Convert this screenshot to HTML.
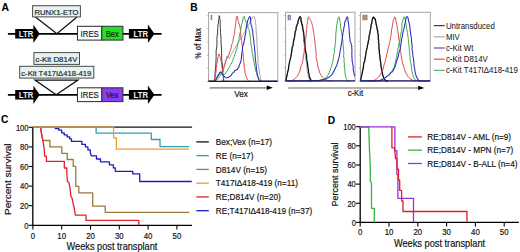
<!DOCTYPE html>
<html><head><meta charset="utf-8"><style>
html,body{margin:0;padding:0;background:#fff;width:520px;height:252px;overflow:hidden}
svg{display:block;font-family:"Liberation Sans", sans-serif}
</style></head><body>
<svg width="520" height="252" viewBox="0 0 520 252">
<rect x="0" y="0" width="520" height="252" fill="#fff"/>
<line x1="7.9" y1="33.8" x2="161.6" y2="33.8" stroke="#000" stroke-width="1.7"/>
<polygon points="15.2,29.049999999999997 33.4,29.049999999999997 33.4,24.699999999999996 39.8,33.8 33.4,42.9 33.4,38.55 15.2,38.55" fill="#000"/>
<text x="18.8" y="36.6" font-size="8.58" font-weight="bold" fill="#f4f4f4" text-anchor="start" textLength="14.40" lengthAdjust="spacingAndGlyphs" >LTR</text>
<polygon points="128.9,29.049999999999997 147.9,29.049999999999997 147.9,24.599999999999998 154.5,33.8 147.9,43.0 147.9,38.55 128.9,38.55" fill="#000"/>
<text x="133.5" y="36.6" font-size="8.58" font-weight="bold" fill="#f4f4f4" text-anchor="start" textLength="14.50" lengthAdjust="spacingAndGlyphs" >LTR</text>
<rect x="77.5" y="26.3" width="24.3" height="13.8" fill="#fff" stroke="#333" stroke-width="1.05"/>
<rect x="101.8" y="26.3" width="21.1" height="13.8" fill="#26e026" stroke="#333" stroke-width="1.05"/>
<text x="80.6" y="36.8" font-size="8.58" font-weight="normal" fill="#222" text-anchor="start" textLength="18.20" lengthAdjust="spacingAndGlyphs" stroke="#222" stroke-width="0.18" >IRES</text>
<text x="105.9" y="36.8" font-size="8.58" font-weight="normal" fill="#1a1a1a" text-anchor="start" textLength="12.80" lengthAdjust="spacingAndGlyphs" stroke="#1a1a1a" stroke-width="0.18" >Bex</text>
<line x1="7.9" y1="94.8" x2="161.6" y2="94.8" stroke="#000" stroke-width="1.7"/>
<polygon points="15.2,90.05 33.4,90.05 33.4,85.7 39.8,94.8 33.4,103.89999999999999 33.4,99.55 15.2,99.55" fill="#000"/>
<text x="18.8" y="97.6" font-size="8.58" font-weight="bold" fill="#f4f4f4" text-anchor="start" textLength="14.40" lengthAdjust="spacingAndGlyphs" >LTR</text>
<polygon points="128.9,90.05 147.9,90.05 147.9,85.6 154.5,94.8 147.9,104.0 147.9,99.55 128.9,99.55" fill="#000"/>
<text x="133.5" y="97.6" font-size="8.58" font-weight="bold" fill="#f4f4f4" text-anchor="start" textLength="14.50" lengthAdjust="spacingAndGlyphs" >LTR</text>
<rect x="77.5" y="87.8" width="24.3" height="13.799999999999997" fill="#fff" stroke="#333" stroke-width="1.05"/>
<rect x="101.8" y="87.8" width="21.1" height="13.799999999999997" fill="#8a3cf0" stroke="#333" stroke-width="1.05"/>
<text x="80.6" y="98.3" font-size="8.58" font-weight="normal" fill="#222" text-anchor="start" textLength="18.20" lengthAdjust="spacingAndGlyphs" stroke="#222" stroke-width="0.18" >IRES</text>
<text x="105.9" y="98.3" font-size="8.58" font-weight="normal" fill="#1a1a1a" text-anchor="start" textLength="12.80" lengthAdjust="spacingAndGlyphs" stroke="#1a1a1a" stroke-width="0.18" >Vex</text>
<polyline points="35.4,17.0 56.9,33.8 77.0,17.0" fill="none" stroke="#111" stroke-width="1.25"/>
<rect x="32.6" y="5.7" width="47.8" height="11.2" fill="#e6f3f3" stroke="#4a4a4a" stroke-width="1.0"/>
<text x="34.4" y="14.6" font-size="7.80" font-weight="normal" fill="#222" text-anchor="start" textLength="44.20" lengthAdjust="spacingAndGlyphs" stroke="#222" stroke-width="0.18" >RUNX1-ETO</text>
<polygon points="35.0,80.1 77.9,80.1 56.2,94.8" fill="none" stroke="#111" stroke-width="1.25"/>
<rect x="33.9" y="52.6" width="45.6" height="11.8" fill="#e6f3f3" stroke="#4a4a4a" stroke-width="1.0"/>
<text x="35.6" y="62.0" font-size="8.03" font-weight="normal" fill="#222" text-anchor="start" textLength="41.80" lengthAdjust="spacingAndGlyphs" stroke="#222" stroke-width="0.18" >c-Kit D814V</text>
<rect x="19.7" y="66.3" width="74.1" height="11.8" fill="#e6f3f3" stroke="#4a4a4a" stroke-width="1.0"/>
<text x="21.3" y="75.9" font-size="8.03" font-weight="normal" fill="#222" text-anchor="start" textLength="69.90" lengthAdjust="spacingAndGlyphs" stroke="#222" stroke-width="0.18" >c-Kit T417I&#916;418-419</text>
<text x="1.5" y="11.0" font-size="10.40" font-weight="bold" fill="#000" text-anchor="start" textLength="7.51" lengthAdjust="spacingAndGlyphs" stroke="#000" stroke-width="0.1" >A</text>
<text x="190.3" y="10.5" font-size="10.20" font-weight="bold" fill="#000" text-anchor="start" textLength="7.37" lengthAdjust="spacingAndGlyphs" stroke="#000" stroke-width="0.1" >B</text>
<rect x="208.6" y="12.6" width="69.20000000000002" height="68.9" fill="none" stroke="#a4a4a4" stroke-width="1.0"/>
<line x1="206.79999999999998" y1="81.5" x2="208.6" y2="81.5" stroke="#999" stroke-width="0.6"/>
<line x1="206.79999999999998" y1="68.4" x2="208.6" y2="68.4" stroke="#999" stroke-width="0.6"/>
<line x1="206.79999999999998" y1="55.2" x2="208.6" y2="55.2" stroke="#999" stroke-width="0.6"/>
<line x1="206.79999999999998" y1="42.1" x2="208.6" y2="42.1" stroke="#999" stroke-width="0.6"/>
<line x1="206.79999999999998" y1="28.9" x2="208.6" y2="28.9" stroke="#999" stroke-width="0.6"/>
<line x1="206.79999999999998" y1="15.8" x2="208.6" y2="15.8" stroke="#999" stroke-width="0.6"/>
<text x="210.5" y="19.9" font-size="6.93" font-weight="bold" fill="#6a6a6a" text-anchor="start" textLength="1.75" lengthAdjust="spacingAndGlyphs" stroke="#6a6a6a" stroke-width="0.3" >i</text>
<rect x="285.6" y="12.3" width="69.39999999999998" height="68.7" fill="none" stroke="#a4a4a4" stroke-width="1.0"/>
<line x1="283.8" y1="81.0" x2="285.6" y2="81.0" stroke="#999" stroke-width="0.6"/>
<line x1="283.8" y1="67.9" x2="285.6" y2="67.9" stroke="#999" stroke-width="0.6"/>
<line x1="283.8" y1="54.8" x2="285.6" y2="54.8" stroke="#999" stroke-width="0.6"/>
<line x1="283.8" y1="41.7" x2="285.6" y2="41.7" stroke="#999" stroke-width="0.6"/>
<line x1="283.8" y1="28.6" x2="285.6" y2="28.6" stroke="#999" stroke-width="0.6"/>
<line x1="283.8" y1="15.5" x2="285.6" y2="15.5" stroke="#999" stroke-width="0.6"/>
<text x="287.5" y="19.6" font-size="6.93" font-weight="bold" fill="#6a6a6a" text-anchor="start" textLength="3.50" lengthAdjust="spacingAndGlyphs" stroke="#6a6a6a" stroke-width="0.3" >ii</text>
<rect x="360.4" y="12.3" width="69.90000000000003" height="68.7" fill="none" stroke="#a4a4a4" stroke-width="1.0"/>
<line x1="358.59999999999997" y1="81.0" x2="360.4" y2="81.0" stroke="#999" stroke-width="0.6"/>
<line x1="358.59999999999997" y1="67.9" x2="360.4" y2="67.9" stroke="#999" stroke-width="0.6"/>
<line x1="358.59999999999997" y1="54.8" x2="360.4" y2="54.8" stroke="#999" stroke-width="0.6"/>
<line x1="358.59999999999997" y1="41.7" x2="360.4" y2="41.7" stroke="#999" stroke-width="0.6"/>
<line x1="358.59999999999997" y1="28.6" x2="360.4" y2="28.6" stroke="#999" stroke-width="0.6"/>
<line x1="358.59999999999997" y1="15.5" x2="360.4" y2="15.5" stroke="#999" stroke-width="0.6"/>
<text x="362.29999999999995" y="19.6" font-size="6.93" font-weight="bold" fill="#6a6a6a" text-anchor="start" textLength="5.25" lengthAdjust="spacingAndGlyphs" stroke="#6a6a6a" stroke-width="0.3" >iii</text>
<polyline points="208.60,81.20 209.44,81.17 210.64,81.16 212.05,81.13 213.51,81.04 214.88,80.84 216.00,80.50 216.86,80.00 217.59,79.43 218.22,78.80 218.74,78.05 219.31,77.09 219.92,75.81 220.66,74.84 221.26,72.85 222.10,71.71 222.77,69.39 223.59,67.20 224.16,65.77 224.42,63.84 225.04,62.74 225.51,60.62 226.21,58.69 226.66,56.96 226.91,56.18 227.62,56.11 227.87,56.52 228.32,56.75 228.85,57.79 228.99,58.08 229.51,58.41 229.99,57.33 230.48,56.47 230.61,56.31 230.90,55.04 231.29,54.21 232.12,53.08 232.75,51.73 233.31,50.88 233.94,49.51 234.76,48.82 235.30,47.31 235.81,46.22 236.73,45.50 237.47,43.73 237.95,43.19 238.46,41.99 239.19,40.63 239.81,40.30 240.50,38.61 241.29,38.15 241.82,36.51 242.69,35.79 243.47,34.58 243.90,32.91 244.62,32.24 245.57,30.25 245.92,29.14 246.62,28.24 247.43,26.85 247.78,25.91 248.50,24.98 249.26,24.03 249.55,22.89 250.09,21.26 250.67,21.13 251.16,20.33 251.51,19.06 251.97,18.45 252.55,17.04 253.19,16.55 253.78,16.15 254.08,16.42 254.48,17.19 254.72,18.56 255.21,18.89 255.26,20.60 255.51,22.25 255.95,25.54 256.04,27.98 256.13,31.22 256.49,35.46 256.96,39.55 256.85,44.50 257.31,47.31 257.53,50.53 257.72,54.79 258.05,57.58 257.99,60.20 258.18,63.52 258.61,66.31 258.87,68.49 259.44,72.04 259.84,74.54 260.24,76.92 260.59,78.93 261.00,80.50 261.22,81.42 261.25,81.78 261.27,81.76 261.46,81.53 261.98,81.28 263.00,81.20 264.80,81.24 267.30,81.25 270.12,81.24 272.93,81.23 275.34,81.21 277.00,81.20" fill="none" stroke="#9a9a9a" stroke-width="0.9" stroke-linejoin="round" />
<polyline points="208.60,81.20 209.11,81.19 209.86,81.18 210.72,81.16 211.60,81.13 212.40,81.08 213.00,81.00 213.40,80.91 213.69,80.84 213.88,80.74 214.03,80.59 214.15,80.35 214.29,79.95 214.41,79.78 214.53,79.88 214.66,79.81 214.76,79.46 214.90,78.16 214.93,75.84 215.10,72.07 215.55,68.04 215.96,61.85 216.15,56.49 216.11,50.83 216.83,46.40 216.96,42.20 216.84,39.28 217.11,36.28 217.66,32.94 217.53,31.12 217.93,27.54 217.83,24.95 218.52,23.27 218.36,20.88 219.09,18.60 218.99,17.01 219.09,15.62 219.77,16.77 219.72,18.17 219.85,19.69 220.25,20.81 220.09,23.25 220.25,26.12 220.42,28.59 220.49,32.38 220.76,35.14 221.02,39.33 221.08,42.98 221.30,46.04 221.51,49.07 221.67,53.31 221.65,58.26 221.98,61.76 222.51,65.53 222.50,68.63 222.82,71.59 222.83,73.66 223.08,75.50 223.38,77.37 223.55,78.89 223.82,79.99 223.54,80.80 222.65,81.20 221.79,81.31 221.61,81.27 222.80,81.19 226.00,81.20 232.27,81.27 241.27,81.29 251.64,81.28 261.97,81.24 270.89,81.21 277.00,81.20" fill="none" stroke="#3c3c3c" stroke-width="1.0" stroke-linejoin="round" />
<polyline points="208.60,81.20 209.11,81.19 209.86,81.18 210.72,81.16 211.60,81.13 212.40,81.08 213.00,81.00 213.39,80.95 213.66,80.95 213.83,80.92 213.97,80.81 214.11,80.52 214.30,80.00 214.54,79.28 214.77,78.34 215.02,77.40 215.31,76.17 215.64,74.44 215.82,73.33 216.20,70.77 216.20,68.78 216.47,66.13 216.77,64.20 217.36,62.25 217.35,60.24 217.81,58.14 218.14,57.78 218.06,56.70 218.34,55.33 218.81,55.07 218.65,54.22 219.01,54.01 219.08,54.16 219.51,54.23 219.63,55.24 219.59,55.72 220.05,56.51 219.99,57.60 220.49,58.18 220.36,58.06 220.50,59.38 220.79,59.55 221.07,61.45 221.48,62.08 221.45,64.46 221.91,66.00 221.96,67.02 222.47,68.93 222.43,70.54 222.79,71.10 222.69,71.63 222.75,71.90 222.96,71.48 223.12,71.77 223.21,70.56 223.59,69.77 223.75,68.41 224.11,66.95 224.64,65.44 225.27,63.82 225.60,62.25 225.99,60.78 226.44,59.53 227.16,58.90 227.44,57.58 228.28,55.91 228.74,54.93 229.12,53.91 229.61,51.99 230.28,50.92 230.64,49.18 231.28,47.48 231.56,45.83 231.74,44.50 232.01,44.27 232.31,42.83 232.44,42.75 233.01,41.60 233.00,39.92 233.30,38.69 233.55,37.04 233.92,35.85 234.56,33.53 234.57,32.06 234.92,29.44 235.10,27.26 235.64,24.83 235.84,22.22 236.08,19.56 236.43,17.81 236.70,16.27 237.09,16.34 237.46,17.25 237.78,18.49 238.00,20.06 238.10,20.77 238.61,21.61 238.77,22.89 238.75,23.73 239.40,24.12 239.61,25.00 239.61,25.53 240.00,26.97 240.33,28.37 240.41,30.12 240.61,31.74 240.56,32.91 240.67,35.13 240.83,37.37 241.21,38.65 241.43,40.08 241.56,40.67 241.90,42.88 241.98,44.21 242.27,45.52 242.54,47.91 242.49,50.41 243.03,52.99 243.29,56.52 243.44,58.47 243.69,61.20 244.05,63.35 244.21,64.92 244.20,67.19 244.69,69.22 244.89,70.85 245.07,72.83 245.64,74.73 246.09,76.06 246.56,77.56 247.08,78.75 247.65,79.85 248.20,80.70 248.83,81.21 249.55,81.42 250.29,81.43 250.99,81.34 251.58,81.23 252.00,81.20" fill="none" stroke="#d8343a" stroke-width="0.9" stroke-linejoin="round" />
<polyline points="208.60,81.20 209.34,81.18 210.40,81.20 211.64,81.19 212.91,81.11 214.08,80.90 215.00,80.50 215.68,79.85 216.12,78.84 216.59,77.90 216.88,76.57 217.17,75.92 217.54,75.04 217.91,74.59 218.46,74.12 218.79,74.24 219.18,74.33 219.44,74.46 220.00,73.90 220.46,74.27 221.21,74.36 221.84,74.64 222.60,75.09 223.26,75.03 224.18,74.38 224.95,74.11 225.74,72.92 226.38,71.91 227.38,70.92 227.87,69.60 228.50,68.10 229.01,67.99 229.61,67.14 230.08,65.44 230.65,64.38 231.06,64.19 231.77,62.94 232.17,61.90 232.83,60.29 233.26,58.49 233.79,57.64 234.31,56.53 234.61,54.50 235.38,53.18 235.67,51.97 236.08,50.91 236.85,48.86 237.15,47.35 237.53,45.88 237.73,44.01 238.10,43.17 238.55,40.72 239.05,39.87 239.16,37.25 239.36,35.55 239.75,33.95 240.01,32.57 240.46,31.71 240.85,29.64 241.02,28.21 241.35,26.42 241.57,24.58 242.36,22.43 242.56,20.99 243.12,18.73 243.24,17.35 243.66,16.74 244.23,17.08 244.49,16.64 244.41,18.27 245.08,19.07 245.23,19.60 245.45,21.47 245.96,22.03 246.35,21.94 246.30,22.41 246.82,23.61 247.35,24.37 247.56,25.29 247.84,26.05 248.04,27.36 248.51,28.67 249.08,29.29 249.21,30.68 249.76,32.82 249.80,33.97 250.20,36.56 250.34,38.35 250.65,40.44 250.78,43.39 251.40,46.16 251.79,48.77 252.00,51.60 252.86,55.30 253.13,57.73 253.77,61.47 254.26,63.73 254.89,66.92 255.22,68.27 255.80,70.86 256.42,72.69 256.92,74.81 257.30,76.07 257.77,77.39 258.11,78.39 258.41,79.28 258.77,79.91 259.13,80.36 259.50,80.80 259.93,81.11 260.40,81.26 260.89,81.29 261.34,81.25 261.72,81.21 262.00,81.20" fill="none" stroke="#3aaa4a" stroke-width="1.0" stroke-linejoin="round" />
<polyline points="208.60,81.20 209.32,81.23 210.33,81.33 211.51,81.43 212.76,81.41 213.96,81.20 215.00,80.70 215.91,79.73 216.76,78.42 217.64,77.08 218.30,75.33 218.97,74.35 219.50,72.78 219.84,72.43 220.31,72.45 220.38,72.36 220.56,71.79 220.52,72.45 221.08,72.03 221.63,72.93 222.27,73.87 223.03,74.83 223.92,76.15 224.87,77.01 225.66,77.61 226.34,77.98 227.14,77.82 227.79,77.60 228.58,77.38 229.30,76.70 230.17,75.99 230.86,75.66 231.75,74.33 232.37,73.30 233.41,72.40 234.11,72.00 234.64,70.69 235.47,70.52 235.72,70.32 236.23,69.67 236.55,69.91 237.40,69.40 237.90,68.08 238.09,67.69 238.93,67.20 239.21,65.26 239.74,64.20 240.44,62.35 240.83,61.26 241.25,59.26 241.53,56.36 241.75,53.81 242.29,50.92 242.35,49.28 242.69,46.52 242.90,45.58 243.30,44.97 243.81,44.10 243.81,42.21 244.01,41.55 244.59,39.94 244.71,37.79 245.22,35.53 245.63,32.96 245.96,29.38 246.43,26.97 246.73,24.86 247.28,22.72 247.59,20.88 248.09,19.87 248.82,17.88 249.23,17.68 249.70,16.50 250.17,17.39 250.52,17.90 250.53,20.26 250.90,22.16 250.76,23.25 251.03,24.66 251.67,26.33 251.92,27.22 252.16,28.42 252.16,29.96 252.73,30.57 252.84,32.73 252.92,34.25 253.12,35.97 253.40,38.47 253.82,40.31 253.80,42.98 254.38,45.65 254.54,49.05 255.11,53.35 255.16,57.04 255.69,61.67 256.18,64.97 256.35,68.81 256.84,70.97 257.18,73.66 257.56,75.22 257.96,76.72 258.41,78.20 258.79,79.15 259.13,80.03 259.30,80.58 259.49,80.86 259.87,81.00 260.59,81.08 261.80,81.20 263.80,81.32 266.53,81.35 269.59,81.33 272.61,81.27 275.21,81.22 277.00,81.20" fill="none" stroke="#2a2ac0" stroke-width="1.05" stroke-linejoin="round" />
<polyline points="285.60,81.00 285.69,80.75 285.79,80.48 285.91,80.16 286.08,79.67 286.27,79.01 286.50,77.91 286.69,76.79 287.10,75.51 287.29,73.71 287.71,71.82 287.98,69.70 288.51,68.47 288.71,66.02 289.41,64.48 289.55,61.40 290.31,60.12 290.54,56.83 291.19,54.88 291.65,52.72 292.11,49.70 292.61,47.19 292.95,45.31 293.65,42.06 293.88,39.89 294.49,37.54 294.79,35.09 295.53,33.56 295.69,31.03 296.47,28.40 296.95,26.58 297.29,25.17 297.74,23.01 298.08,21.53 298.50,20.06 298.91,18.63 299.09,18.13 299.62,17.54 300.03,18.42 300.16,18.40 300.43,19.23 300.55,20.70 300.82,21.94 301.32,22.83 301.70,24.39 302.08,26.87 302.33,27.99 302.66,30.49 303.20,32.60 303.48,36.24 303.75,39.05 303.83,42.47 304.29,45.80 304.82,48.31 305.13,52.47 305.20,55.24 305.91,58.64 306.39,62.41 306.79,65.76 307.08,69.77 307.40,71.80 307.92,74.06 308.27,75.84 308.74,77.61 309.22,78.77 309.60,79.71 310.00,80.50 310.39,81.05 310.78,81.28 311.16,81.28 311.50,81.17 311.79,81.04 312.00,81.00" fill="none" stroke="#9a9a9a" stroke-width="0.9" stroke-linejoin="round" />
<polyline points="285.60,81.00 285.71,80.60 285.83,80.14 286.02,79.53 286.26,78.76 286.49,77.81 286.71,76.48 287.24,74.18 287.79,71.65 288.46,69.34 288.66,66.81 289.25,63.19 289.94,60.37 290.50,58.05 290.93,56.38 291.44,53.24 291.81,49.72 292.13,47.56 292.86,45.91 293.14,44.91 293.21,42.68 293.73,41.31 293.58,40.78 293.85,39.73 294.15,38.82 294.59,36.86 294.84,35.71 294.80,34.78 295.10,32.10 295.28,31.24 296.01,30.00 296.07,27.89 296.20,27.07 296.88,25.35 297.31,24.22 297.86,23.44 297.86,22.56 298.13,20.90 298.73,19.28 298.94,18.89 299.31,17.63 300.20,16.44 300.13,16.95 300.61,17.43 301.06,17.70 301.04,19.13 301.15,21.38 301.81,22.59 301.62,24.08 302.29,24.68 302.54,25.71 302.50,26.29 302.75,27.38 303.06,29.76 303.51,31.58 303.76,32.83 303.90,35.43 304.27,38.11 304.22,40.95 304.87,43.03 305.11,45.32 305.09,48.12 305.71,51.61 306.09,53.24 306.55,55.74 306.57,59.06 307.17,61.27 307.57,64.31 307.84,66.91 308.35,69.73 308.60,72.13 309.04,74.12 309.34,76.27 309.74,77.82 310.21,78.62 310.67,79.62 311.10,80.10 311.45,80.60 311.70,81.00" fill="none" stroke="#111" stroke-width="1.25" stroke-linejoin="round" />
<polyline points="288.00,81.00 288.41,81.03 288.96,81.13 289.62,81.22 290.36,81.23 291.17,81.08 292.00,80.70 292.90,80.08 293.95,79.43 295.04,78.59 296.05,77.51 297.13,76.35 298.17,74.93 298.84,73.15 299.96,71.17 300.41,68.09 301.15,65.44 302.15,63.79 302.66,61.36 303.19,58.23 303.41,55.31 304.10,52.68 304.25,50.28 304.42,47.72 304.80,46.24 305.04,44.41 305.43,43.74 305.45,43.24 305.16,42.39 305.43,41.90 305.53,40.43 305.82,37.82 306.20,35.12 306.44,32.39 306.35,29.57 306.96,27.76 306.88,24.99 307.34,23.41 307.43,21.27 307.73,20.03 307.94,18.82 308.21,17.04 308.69,16.80 308.77,16.97 309.15,17.71 309.84,18.62 310.22,19.23 310.51,20.33 311.07,20.84 311.37,21.38 311.33,22.13 311.88,22.86 311.88,23.82 312.04,24.04 312.41,25.28 312.76,26.33 312.83,27.34 313.00,29.41 313.47,30.93 313.50,32.29 314.02,34.19 313.99,35.84 314.57,37.46 314.51,39.46 314.99,42.08 315.00,43.43 315.29,45.81 315.63,47.96 315.74,50.48 316.22,53.64 316.05,56.49 316.34,58.41 317.11,61.32 317.48,63.38 317.78,66.13 318.35,68.13 319.14,70.37 319.88,73.13 320.74,74.70 321.60,76.10 322.51,77.28 323.60,78.21 324.70,78.85 325.72,79.50 326.70,79.98 327.69,80.43 328.71,80.69 329.72,80.83 330.65,80.90 331.43,80.94 332.00,81.00" fill="none" stroke="#d8343a" stroke-width="0.9" stroke-linejoin="round" />
<polyline points="315.00,81.00 315.80,80.94 316.91,80.90 318.23,80.83 319.62,80.69 320.99,80.43 322.21,80.03 323.30,79.49 324.37,78.90 325.38,78.13 326.32,77.29 327.22,76.08 328.27,74.82 329.11,72.73 329.90,70.76 330.79,68.36 331.57,66.45 332.05,63.63 332.92,60.88 333.31,59.13 333.53,56.25 333.94,54.07 334.60,51.28 334.53,48.76 335.02,46.24 335.29,43.26 335.67,40.03 335.70,37.31 335.84,33.89 336.16,31.02 336.33,28.63 336.78,25.14 337.14,23.06 337.44,20.82 338.03,19.20 338.39,17.30 338.68,17.07 339.28,16.80 339.21,17.69 339.50,18.14 339.61,20.24 340.15,21.84 340.29,23.67 340.53,26.43 341.00,28.96 341.64,32.31 341.91,34.88 342.32,37.53 342.75,40.04 342.96,41.43 342.89,42.32 343.01,42.85 342.90,44.03 343.10,44.35 343.21,45.98 343.39,48.12 343.60,50.16 343.84,53.30 343.58,56.01 344.10,58.69 343.94,61.36 344.36,63.11 344.30,66.95 344.82,68.99 344.88,71.62 345.23,74.45 345.57,76.05 345.99,77.71 346.29,78.73 346.72,79.42 347.13,79.95 347.52,80.32 347.90,80.70 348.29,81.00 348.69,81.12 349.09,81.13 349.46,81.08 349.77,81.02 350.00,81.00" fill="none" stroke="#3aaa4a" stroke-width="1.0" stroke-linejoin="round" />
<polyline points="285.60,81.00 289.07,80.99 294.10,80.97 299.94,80.95 305.87,80.92 311.13,80.87 315.00,80.80 317.32,80.71 318.64,80.61 319.31,80.49 319.66,80.35 320.02,80.21 320.69,80.02 321.68,79.85 322.67,79.71 323.68,79.45 324.66,79.18 325.69,78.80 326.70,78.32 327.72,77.81 328.76,77.29 329.72,76.55 330.82,75.54 331.87,74.63 332.76,73.04 333.90,71.14 334.73,69.82 335.38,67.78 336.54,65.97 337.19,63.79 338.00,60.98 338.83,58.10 339.34,56.18 339.71,53.79 340.20,50.74 340.71,48.56 340.97,45.93 341.40,44.08 341.84,42.02 342.05,40.51 342.11,38.76 342.33,37.90 342.67,35.92 342.85,33.43 343.19,31.62 343.71,29.69 343.83,27.52 344.59,25.37 344.60,23.38 344.97,21.65 345.77,20.51 346.06,19.26 346.57,17.89 346.81,17.14 347.19,16.91 347.48,16.90 347.73,18.12 348.02,19.09 347.99,20.68 348.48,23.51 348.67,24.86 348.99,27.55 349.13,29.63 349.26,32.66 349.52,35.49 349.91,38.61 349.90,40.27 350.16,41.18 350.76,42.57 351.08,43.05 350.94,43.61 351.43,45.09 351.81,45.97 351.73,47.56 351.96,50.11 351.85,52.57 351.89,56.08 352.07,59.07 352.22,61.41 352.45,62.76 352.96,65.30 353.23,67.45 353.22,70.12 353.74,71.94 353.97,72.80 354.15,74.30 354.33,75.16 354.49,75.64 354.77,75.49 354.80,76.04 355.00,76.20" fill="none" stroke="#2a2ac0" stroke-width="1.05" stroke-linejoin="round" />
<polyline points="360.40,81.00 360.47,80.79 360.55,80.59 360.66,80.31 360.81,79.81 360.96,79.15 361.16,78.10 361.49,76.25 361.80,74.53 362.19,72.39 362.48,70.16 363.00,67.56 363.56,64.91 363.92,62.91 364.66,60.39 365.02,57.27 365.32,55.45 366.11,52.77 366.43,50.12 367.16,48.08 367.41,45.31 367.75,43.80 368.13,41.46 368.63,39.58 369.14,36.76 369.21,34.50 369.83,32.52 370.44,30.52 370.52,28.22 371.27,26.19 371.53,23.75 371.98,22.75 372.18,21.40 372.30,19.20 372.64,18.94 372.76,18.15 373.39,17.21 373.60,17.71 373.91,17.55 374.20,18.81 374.84,19.42 374.93,20.97 375.62,21.71 375.93,24.13 376.48,25.80 376.72,28.19 376.99,30.16 377.35,33.07 377.74,35.07 377.99,36.92 378.06,38.17 378.57,40.24 378.31,42.26 378.75,43.58 378.84,45.83 379.01,47.76 379.00,51.29 379.59,53.32 379.69,55.69 380.04,58.45 380.40,61.29 380.65,63.96 380.73,65.44 381.06,68.06 381.41,70.33 381.99,73.15 382.39,74.96 382.94,76.02 383.40,77.45 383.90,78.64 384.46,79.42 385.01,80.16 385.50,80.70 385.98,81.08 386.47,81.23 386.94,81.23 387.37,81.13 387.73,81.03 388.00,81.00" fill="none" stroke="#9a9a9a" stroke-width="0.9" stroke-linejoin="round" />
<polyline points="360.40,81.00 360.50,80.60 360.62,80.13 360.76,79.49 361.00,78.88 361.15,77.48 361.45,76.12 362.02,74.58 362.50,71.42 363.03,69.53 363.50,67.12 363.72,63.14 364.64,61.62 365.13,58.14 365.64,56.12 365.92,52.86 366.55,50.01 367.16,47.68 367.45,45.50 368.03,43.52 368.31,42.27 368.15,41.97 368.45,40.69 369.03,39.24 368.90,37.03 369.20,35.82 369.97,33.34 370.12,30.78 370.71,28.83 370.99,26.33 371.14,24.38 371.80,23.33 371.86,22.00 372.31,19.70 372.64,18.08 373.41,17.11 373.41,16.79 373.88,17.36 374.15,17.90 374.51,18.59 375.23,18.74 375.51,20.19 375.76,21.58 376.21,24.51 376.97,26.62 376.87,28.18 377.70,30.37 377.94,33.13 378.37,34.92 378.48,37.24 378.24,38.44 378.73,40.75 378.46,42.22 378.97,43.64 378.94,45.49 378.92,48.63 379.44,50.28 379.33,52.72 379.88,55.92 379.97,58.11 380.46,61.29 380.89,63.56 380.88,65.34 381.53,68.28 381.88,70.22 382.29,72.72 382.70,74.97 383.07,75.94 383.66,77.47 384.19,78.47 384.67,79.47 385.21,80.08 385.70,80.70 386.16,81.08 386.61,81.23 387.04,81.23 387.43,81.13 387.76,81.03 388.00,81.00" fill="none" stroke="#111" stroke-width="1.25" stroke-linejoin="round" />
<polyline points="368.00,81.00 368.79,80.96 369.88,80.96 371.18,80.93 372.55,80.81 373.90,80.52 375.10,80.01 376.15,79.27 377.23,78.39 378.21,77.40 379.30,76.27 380.15,74.82 381.07,73.28 381.81,71.57 382.99,69.09 383.59,66.80 384.35,63.82 385.25,61.63 385.56,59.16 386.20,57.60 386.67,54.34 387.48,51.98 387.66,50.07 388.34,47.84 388.79,45.56 389.19,44.93 389.09,43.42 389.50,43.20 389.61,42.12 389.89,41.22 390.24,40.60 390.37,38.21 390.99,35.20 391.39,33.23 391.58,29.81 392.17,27.27 392.35,25.49 392.91,22.90 393.07,21.07 393.57,20.15 394.12,18.74 394.50,17.69 394.50,16.82 395.19,17.25 395.12,17.09 395.51,17.79 395.68,18.56 395.88,20.41 395.99,21.60 396.75,24.32 397.13,26.68 397.49,29.74 397.93,31.65 398.22,34.57 398.58,36.85 398.81,39.34 399.09,40.03 399.27,41.48 399.68,42.58 399.63,44.40 399.83,46.10 400.50,48.18 400.49,50.56 400.92,52.81 401.10,55.46 401.60,58.40 402.11,60.72 402.63,63.50 403.65,66.08 404.29,68.60 404.96,70.97 405.91,72.93 406.83,74.68 407.72,76.06 408.76,77.39 409.88,78.39 410.92,79.15 411.96,79.81 412.80,80.40 413.53,80.80 414.19,81.00 414.78,81.06 415.27,81.03 415.68,80.99 416.00,81.00" fill="none" stroke="#d8343a" stroke-width="0.9" stroke-linejoin="round" />
<polyline points="378.00,81.00 378.30,80.92 378.69,80.84 379.17,80.74 379.73,80.58 380.37,80.34 381.10,80.00 381.93,79.64 382.90,79.13 383.94,78.41 385.11,77.83 386.09,77.05 387.19,76.30 388.16,75.04 389.44,74.21 390.29,72.70 391.37,71.65 392.42,70.43 393.34,68.62 393.99,67.28 394.57,65.28 395.07,63.74 395.56,61.26 395.95,59.28 396.32,58.09 396.60,56.70 396.99,54.29 397.41,52.96 397.66,50.58 397.92,48.81 398.40,46.77 398.64,45.19 399.06,43.06 399.66,41.75 399.96,39.40 400.21,37.32 400.54,35.68 401.04,33.12 401.45,31.26 401.65,29.68 401.93,26.91 401.92,25.76 401.98,23.10 402.49,22.04 402.91,20.86 403.02,19.76 403.28,18.11 403.62,17.14 403.74,16.90 403.98,17.20 404.36,16.95 404.34,17.29 404.71,18.29 405.04,19.70 405.50,20.59 405.61,22.44 406.23,24.27 406.41,27.19 406.65,29.16 407.38,32.19 407.51,33.67 407.96,36.35 408.19,38.61 408.46,39.87 408.37,41.63 408.76,43.86 408.86,45.65 409.30,48.45 409.41,51.36 409.76,52.88 409.90,56.30 410.12,58.75 410.28,60.78 410.98,63.55 411.26,65.63 411.56,68.49 411.86,70.91 412.38,73.26 412.82,74.65 413.20,76.02 413.81,77.25 414.27,78.29 414.83,79.23 415.34,79.87 415.80,80.40 416.24,80.80 416.67,81.00 417.09,81.06 417.46,81.03 417.77,80.99 418.00,81.00" fill="none" stroke="#3aaa4a" stroke-width="1.0" stroke-linejoin="round" />
<polyline points="360.40,81.00 362.22,81.01 364.83,81.04 367.88,81.06 371.00,81.07 373.83,81.06 376.00,81.00 377.45,80.92 378.44,80.84 379.14,80.74 379.71,80.58 380.31,80.34 381.08,79.96 382.07,79.53 383.08,79.00 384.06,78.36 385.09,77.86 386.19,76.94 387.19,76.15 388.13,75.59 389.28,74.83 390.28,73.75 391.24,72.31 392.44,71.80 393.13,70.50 394.19,68.21 394.91,67.01 395.64,64.91 396.25,62.13 397.15,59.77 397.62,58.41 398.30,56.28 398.75,53.52 399.33,51.46 400.07,49.54 400.33,47.40 400.71,45.87 400.98,43.93 401.09,43.39 401.38,41.46 401.50,40.17 401.76,38.39 402.27,36.93 402.49,35.05 402.99,31.91 403.90,28.91 404.30,26.90 404.99,23.64 405.24,22.24 405.58,20.94 405.76,19.64 406.11,17.83 406.29,16.99 406.62,16.69 406.98,16.90 407.07,16.67 407.53,17.08 408.01,17.72 408.24,19.20 408.52,20.74 408.95,22.17 409.43,23.81 409.77,26.07 410.10,29.70 410.57,32.34 410.84,34.90 411.24,37.10 411.41,38.39 411.54,40.00 411.53,41.79 411.66,42.70 412.03,44.54 412.17,46.40 412.05,47.92 412.24,50.79 412.78,53.04 412.95,56.05 413.38,58.23 413.75,60.84 413.98,63.10 414.09,66.41 414.72,68.67 414.81,70.34 415.28,72.67 415.75,74.63 416.18,76.09 416.79,77.28 417.33,78.39 417.84,79.13 418.33,79.86 418.80,80.40 419.14,80.80 419.36,81.00 419.56,81.06 419.83,81.03 420.28,80.99 421.00,81.00 422.15,81.03 423.68,81.04 425.39,81.04 427.06,81.02 428.50,81.01 429.50,81.00" fill="none" stroke="#2a2ac0" stroke-width="1.05" stroke-linejoin="round" />
<line x1="208.6" y1="81.3" x2="277.8" y2="81.3" stroke="#1c1c2c" stroke-width="1.2"/>
<line x1="285.6" y1="80.8" x2="355.0" y2="80.8" stroke="#1c1c6a" stroke-width="1.2"/>
<line x1="360.4" y1="80.8" x2="430.3" y2="80.8" stroke="#1c1c6a" stroke-width="1.2"/>
<line x1="209.6" y1="87.8" x2="268" y2="87.8" stroke="#9a9a9a" stroke-width="1.8"/>
<polygon points="266.8,85.6 272.8,87.8 266.8,90.0" fill="#000"/>
<line x1="288.2" y1="88.1" x2="419" y2="88.1" stroke="#9a9a9a" stroke-width="1.5"/>
<polygon points="418.2,85.7 424.3,87.9 418.2,90.1" fill="#000"/>
<text x="234.3" y="96.7" font-size="8.58" font-weight="normal" fill="#111" text-anchor="start" textLength="13.50" lengthAdjust="spacingAndGlyphs" stroke="#111" stroke-width="0.18" >Vex</text>
<text x="347.7" y="96.3" font-size="8.58" font-weight="normal" fill="#111" text-anchor="start" textLength="15.40" lengthAdjust="spacingAndGlyphs" stroke="#111" stroke-width="0.18" >c-Kit</text>
<text x="0" y="0" font-size="9.03" font-weight="bold" fill="#1a1a1a" text-anchor="middle" textLength="31.00" lengthAdjust="spacingAndGlyphs" transform="translate(200.9,43.2) rotate(-90)">% of Max</text>
<line x1="433.8" y1="25.70" x2="444.7" y2="25.70" stroke="#111" stroke-width="1"/>
<text x="445.9" y="28.60" font-size="8.63" font-weight="normal" fill="#1a1a1a" text-anchor="start" textLength="48.87" lengthAdjust="spacingAndGlyphs" stroke="#1a1a1a" stroke-width="0.05" >Untransduced</text>
<line x1="433.8" y1="36.85" x2="444.7" y2="36.85" stroke="#9a9a9a" stroke-width="1"/>
<text x="445.9" y="39.75" font-size="8.63" font-weight="normal" fill="#1a1a1a" text-anchor="start" textLength="13.96" lengthAdjust="spacingAndGlyphs" stroke="#1a1a1a" stroke-width="0.05" >MIV</text>
<line x1="433.8" y1="48.00" x2="444.7" y2="48.00" stroke="#2a2ac0" stroke-width="1"/>
<text x="445.9" y="50.90" font-size="8.63" font-weight="normal" fill="#1a1a1a" text-anchor="start" textLength="27.47" lengthAdjust="spacingAndGlyphs" stroke="#1a1a1a" stroke-width="0.05" >c-Kit Wt</text>
<line x1="433.8" y1="59.15" x2="444.7" y2="59.15" stroke="#d8343a" stroke-width="1"/>
<text x="445.9" y="62.05" font-size="8.63" font-weight="normal" fill="#1a1a1a" text-anchor="start" textLength="41.88" lengthAdjust="spacingAndGlyphs" stroke="#1a1a1a" stroke-width="0.05" >c-Kit D814V</text>
<line x1="433.8" y1="70.30" x2="444.7" y2="70.30" stroke="#3aaa4a" stroke-width="1"/>
<text x="445.9" y="73.20" font-size="8.63" font-weight="normal" fill="#1a1a1a" text-anchor="start" textLength="71.86" lengthAdjust="spacingAndGlyphs" stroke="#1a1a1a" stroke-width="0.05" >c-Kit T417I&#916;418-419</text>
<text x="1.1" y="123.2" font-size="10.20" font-weight="bold" fill="#000" text-anchor="start" textLength="7.37" lengthAdjust="spacingAndGlyphs" stroke="#000" stroke-width="0.1" >C</text>
<line x1="32.8" y1="127.0" x2="32.8" y2="225.9" stroke="#000" stroke-width="1.3"/>
<line x1="32.2" y1="225.3" x2="192.1" y2="225.3" stroke="#000" stroke-width="1.3"/>
<line x1="28.6" y1="225.30" x2="32.8" y2="225.30" stroke="#000" stroke-width="1.1"/>
<text x="28.4" y="228.60" font-size="8.25" font-weight="normal" fill="#111" text-anchor="end" textLength="4.17" lengthAdjust="spacingAndGlyphs" stroke="#111" stroke-width="0.18" >0</text>
<line x1="32.90" y1="225.3" x2="32.90" y2="229.6" stroke="#000" stroke-width="1.1"/>
<text x="32.90" y="239.3" font-size="8.58" font-weight="normal" fill="#111" text-anchor="middle" textLength="4.34" lengthAdjust="spacingAndGlyphs" stroke="#111" stroke-width="0.18" >0</text>
<line x1="28.6" y1="205.70" x2="32.8" y2="205.70" stroke="#000" stroke-width="1.1"/>
<text x="28.4" y="209.00" font-size="8.25" font-weight="normal" fill="#111" text-anchor="end" textLength="8.34" lengthAdjust="spacingAndGlyphs" stroke="#111" stroke-width="0.18" >20</text>
<line x1="61.70" y1="225.3" x2="61.70" y2="229.6" stroke="#000" stroke-width="1.1"/>
<text x="61.70" y="239.3" font-size="8.58" font-weight="normal" fill="#111" text-anchor="middle" textLength="8.68" lengthAdjust="spacingAndGlyphs" stroke="#111" stroke-width="0.18" >10</text>
<line x1="28.6" y1="186.10" x2="32.8" y2="186.10" stroke="#000" stroke-width="1.1"/>
<text x="28.4" y="189.40" font-size="8.25" font-weight="normal" fill="#111" text-anchor="end" textLength="8.34" lengthAdjust="spacingAndGlyphs" stroke="#111" stroke-width="0.18" >40</text>
<line x1="90.50" y1="225.3" x2="90.50" y2="229.6" stroke="#000" stroke-width="1.1"/>
<text x="90.50" y="239.3" font-size="8.58" font-weight="normal" fill="#111" text-anchor="middle" textLength="8.68" lengthAdjust="spacingAndGlyphs" stroke="#111" stroke-width="0.18" >20</text>
<line x1="28.6" y1="166.50" x2="32.8" y2="166.50" stroke="#000" stroke-width="1.1"/>
<text x="28.4" y="169.80" font-size="8.25" font-weight="normal" fill="#111" text-anchor="end" textLength="8.34" lengthAdjust="spacingAndGlyphs" stroke="#111" stroke-width="0.18" >60</text>
<line x1="119.30" y1="225.3" x2="119.30" y2="229.6" stroke="#000" stroke-width="1.1"/>
<text x="119.30" y="239.3" font-size="8.58" font-weight="normal" fill="#111" text-anchor="middle" textLength="8.68" lengthAdjust="spacingAndGlyphs" stroke="#111" stroke-width="0.18" >30</text>
<line x1="28.6" y1="146.90" x2="32.8" y2="146.90" stroke="#000" stroke-width="1.1"/>
<text x="28.4" y="150.20" font-size="8.25" font-weight="normal" fill="#111" text-anchor="end" textLength="8.34" lengthAdjust="spacingAndGlyphs" stroke="#111" stroke-width="0.18" >80</text>
<line x1="148.10" y1="225.3" x2="148.10" y2="229.6" stroke="#000" stroke-width="1.1"/>
<text x="148.10" y="239.3" font-size="8.58" font-weight="normal" fill="#111" text-anchor="middle" textLength="8.68" lengthAdjust="spacingAndGlyphs" stroke="#111" stroke-width="0.18" >40</text>
<line x1="28.6" y1="127.30" x2="32.8" y2="127.30" stroke="#000" stroke-width="1.1"/>
<text x="28.4" y="130.60" font-size="8.25" font-weight="normal" fill="#111" text-anchor="end" textLength="12.51" lengthAdjust="spacingAndGlyphs" stroke="#111" stroke-width="0.18" >100</text>
<line x1="176.90" y1="225.3" x2="176.90" y2="229.6" stroke="#000" stroke-width="1.1"/>
<text x="176.90" y="239.3" font-size="8.58" font-weight="normal" fill="#111" text-anchor="middle" textLength="8.68" lengthAdjust="spacingAndGlyphs" stroke="#111" stroke-width="0.18" >50</text>
<text x="66.6" y="249.5" font-size="10.56" font-weight="normal" fill="#111" text-anchor="start" textLength="90.80" lengthAdjust="spacingAndGlyphs" stroke="#111" stroke-width="0.18" >Weeks post transplant</text>
<text x="0" y="0" font-size="9.90" font-weight="normal" fill="#111" text-anchor="middle" textLength="71.50" lengthAdjust="spacingAndGlyphs" stroke="#111" stroke-width="0.18" transform="translate(10.8,179.2) rotate(-90)">Percent survival</text>
<polyline points="32.80,127.20 192.10,127.20 192.10,127.20" fill="none" stroke="#111" stroke-width="1.3" stroke-linejoin="round" />
<polyline points="96.10,127.20 96.10,133.10 151.30,133.10 151.30,139.50 160.00,139.50 160.00,146.70 189.00,146.70 189.00,146.70" fill="none" stroke="#2aa2b6" stroke-width="1.3" stroke-linejoin="round" />
<polyline points="55.30,127.30 55.30,128.60 58.80,128.60 58.80,130.20 61.70,130.20 61.70,132.90 64.20,132.90 64.20,134.90 67.20,134.90 67.20,136.90 69.70,136.90 69.70,138.90 71.50,138.90 71.50,141.40 81.90,141.40 81.90,144.40 85.40,144.40 85.40,146.90 87.90,146.90 87.90,149.90 90.30,149.90 90.30,152.80 91.30,155.80 96.50,155.80 96.50,159.00 100.50,159.00 100.50,161.90 109.40,161.90 109.40,164.90 113.40,164.90 113.40,167.90 115.30,167.90 115.30,171.30 132.80,171.30 132.80,173.90 139.70,173.90 139.70,181.50 191.80,181.50 191.80,181.50" fill="none" stroke="#1c1cc0" stroke-width="1.3" stroke-linejoin="round" />
<polyline points="40.90,127.30 40.90,130.00 41.80,135.00 42.90,140.50 49.90,140.50 49.90,146.90 61.80,146.90 61.80,153.40 67.20,153.40 67.20,159.50 73.20,159.50 73.20,166.40 75.80,166.40 75.80,186.40 78.80,186.40 78.80,192.90 92.70,192.90 92.70,206.20 105.20,206.20 105.20,212.30 189.40,212.30 189.40,212.30" fill="none" stroke="#9a7a3e" stroke-width="1.3" stroke-linejoin="round" />
<polyline points="40.90,127.30 40.90,130.00 41.80,135.00 42.90,141.00 44.00,147.00 44.40,152.00 44.60,156.20 46.40,156.20 46.40,161.40 64.30,161.40 64.30,168.00 66.80,168.00 66.80,172.00 67.40,181.40 68.90,182.50 69.90,187.00 70.90,196.30 72.00,198.00 73.00,203.00 74.20,208.00 75.40,215.20 86.00,215.20 86.00,220.40 138.80,220.40 138.80,220.40 138.80,225.30" fill="none" stroke="#e0202c" stroke-width="1.3" stroke-linejoin="round" />
<polyline points="32.80,127.20 113.60,127.20 113.60,137.90 116.30,137.90 116.30,149.20 189.00,149.20 189.00,149.20" fill="none" stroke="#f09a30" stroke-width="1.3" stroke-linejoin="round" />
<line x1="196.3" y1="141.90" x2="208.8" y2="141.90" stroke="#111" stroke-width="1.3"/>
<text x="215.8" y="145.00" font-size="9.02" font-weight="normal" fill="#111" text-anchor="start" textLength="56.29" lengthAdjust="spacingAndGlyphs" stroke="#111" stroke-width="0.18" >Bex;Vex (n=17)</text>
<line x1="196.3" y1="155.66" x2="208.8" y2="155.66" stroke="#2aa2b6" stroke-width="1.3"/>
<text x="215.8" y="158.76" font-size="9.02" font-weight="normal" fill="#111" text-anchor="start" textLength="37.60" lengthAdjust="spacingAndGlyphs" stroke="#111" stroke-width="0.18" >RE (n=17)</text>
<line x1="196.3" y1="169.42" x2="208.8" y2="169.42" stroke="#9a7a3e" stroke-width="1.3"/>
<text x="215.8" y="172.52" font-size="9.02" font-weight="normal" fill="#111" text-anchor="start" textLength="51.28" lengthAdjust="spacingAndGlyphs" stroke="#111" stroke-width="0.18" >D814V (n=15)</text>
<line x1="196.3" y1="183.18" x2="208.8" y2="183.18" stroke="#f09a30" stroke-width="1.3"/>
<text x="215.8" y="186.28" font-size="9.02" font-weight="normal" fill="#111" text-anchor="start" textLength="82.13" lengthAdjust="spacingAndGlyphs" stroke="#111" stroke-width="0.18" >T417I&#916;418-419 (n=11)</text>
<line x1="196.3" y1="196.94" x2="208.8" y2="196.94" stroke="#e0202c" stroke-width="1.3"/>
<text x="215.8" y="200.04" font-size="9.02" font-weight="normal" fill="#111" text-anchor="start" textLength="64.95" lengthAdjust="spacingAndGlyphs" stroke="#111" stroke-width="0.18" >RE;D814V (n=20)</text>
<line x1="196.3" y1="210.70" x2="208.8" y2="210.70" stroke="#1c1cc0" stroke-width="1.3"/>
<text x="215.8" y="213.80" font-size="9.02" font-weight="normal" fill="#111" text-anchor="start" textLength="96.41" lengthAdjust="spacingAndGlyphs" stroke="#111" stroke-width="0.18" >RE;T417I&#916;418-419 (n=37)</text>
<text x="327.8" y="123.5" font-size="10.20" font-weight="bold" fill="#000" text-anchor="start" textLength="7.37" lengthAdjust="spacingAndGlyphs" stroke="#000" stroke-width="0.1" >D</text>
<line x1="360.2" y1="126.4" x2="360.2" y2="223.0" stroke="#000" stroke-width="1.3"/>
<line x1="359.6" y1="222.4" x2="518.9" y2="222.4" stroke="#000" stroke-width="1.3"/>
<line x1="356.0" y1="222.40" x2="360.2" y2="222.40" stroke="#000" stroke-width="1.1"/>
<text x="355.8" y="225.70" font-size="8.25" font-weight="normal" fill="#111" text-anchor="end" textLength="4.17" lengthAdjust="spacingAndGlyphs" stroke="#111" stroke-width="0.18" >0</text>
<line x1="360.20" y1="222.4" x2="360.20" y2="226.6" stroke="#000" stroke-width="1.1"/>
<text x="360.20" y="235.3" font-size="8.58" font-weight="normal" fill="#111" text-anchor="middle" textLength="4.34" lengthAdjust="spacingAndGlyphs" stroke="#111" stroke-width="0.18" >0</text>
<line x1="356.0" y1="203.26" x2="360.2" y2="203.26" stroke="#000" stroke-width="1.1"/>
<text x="355.8" y="206.56" font-size="8.25" font-weight="normal" fill="#111" text-anchor="end" textLength="8.34" lengthAdjust="spacingAndGlyphs" stroke="#111" stroke-width="0.18" >20</text>
<line x1="389.00" y1="222.4" x2="389.00" y2="226.6" stroke="#000" stroke-width="1.1"/>
<text x="389.00" y="235.3" font-size="8.58" font-weight="normal" fill="#111" text-anchor="middle" textLength="8.68" lengthAdjust="spacingAndGlyphs" stroke="#111" stroke-width="0.18" >10</text>
<line x1="356.0" y1="184.12" x2="360.2" y2="184.12" stroke="#000" stroke-width="1.1"/>
<text x="355.8" y="187.42" font-size="8.25" font-weight="normal" fill="#111" text-anchor="end" textLength="8.34" lengthAdjust="spacingAndGlyphs" stroke="#111" stroke-width="0.18" >40</text>
<line x1="417.80" y1="222.4" x2="417.80" y2="226.6" stroke="#000" stroke-width="1.1"/>
<text x="417.80" y="235.3" font-size="8.58" font-weight="normal" fill="#111" text-anchor="middle" textLength="8.68" lengthAdjust="spacingAndGlyphs" stroke="#111" stroke-width="0.18" >20</text>
<line x1="356.0" y1="164.98" x2="360.2" y2="164.98" stroke="#000" stroke-width="1.1"/>
<text x="355.8" y="168.28" font-size="8.25" font-weight="normal" fill="#111" text-anchor="end" textLength="8.34" lengthAdjust="spacingAndGlyphs" stroke="#111" stroke-width="0.18" >60</text>
<line x1="446.60" y1="222.4" x2="446.60" y2="226.6" stroke="#000" stroke-width="1.1"/>
<text x="446.60" y="235.3" font-size="8.58" font-weight="normal" fill="#111" text-anchor="middle" textLength="8.68" lengthAdjust="spacingAndGlyphs" stroke="#111" stroke-width="0.18" >30</text>
<line x1="356.0" y1="145.84" x2="360.2" y2="145.84" stroke="#000" stroke-width="1.1"/>
<text x="355.8" y="149.14" font-size="8.25" font-weight="normal" fill="#111" text-anchor="end" textLength="8.34" lengthAdjust="spacingAndGlyphs" stroke="#111" stroke-width="0.18" >80</text>
<line x1="475.40" y1="222.4" x2="475.40" y2="226.6" stroke="#000" stroke-width="1.1"/>
<text x="475.40" y="235.3" font-size="8.58" font-weight="normal" fill="#111" text-anchor="middle" textLength="8.68" lengthAdjust="spacingAndGlyphs" stroke="#111" stroke-width="0.18" >40</text>
<line x1="356.0" y1="126.70" x2="360.2" y2="126.70" stroke="#000" stroke-width="1.1"/>
<text x="355.8" y="130.00" font-size="8.25" font-weight="normal" fill="#111" text-anchor="end" textLength="12.51" lengthAdjust="spacingAndGlyphs" stroke="#111" stroke-width="0.18" >100</text>
<line x1="504.20" y1="222.4" x2="504.20" y2="226.6" stroke="#000" stroke-width="1.1"/>
<text x="504.20" y="235.3" font-size="8.58" font-weight="normal" fill="#111" text-anchor="middle" textLength="8.68" lengthAdjust="spacingAndGlyphs" stroke="#111" stroke-width="0.18" >50</text>
<text x="393.9" y="246.5" font-size="10.56" font-weight="normal" fill="#111" text-anchor="start" textLength="91.20" lengthAdjust="spacingAndGlyphs" stroke="#111" stroke-width="0.18" >Weeks post transplant</text>
<text x="0" y="0" font-size="9.68" font-weight="normal" fill="#111" text-anchor="middle" textLength="64.00" lengthAdjust="spacingAndGlyphs" stroke="#111" stroke-width="0.18" transform="translate(338.1,174.4) rotate(-90)">Percent survival</text>
<polyline points="360.20,127.00 368.70,127.00 369.50,150.00 370.30,168.00 370.30,181.00 371.50,183.00 371.50,208.30 374.30,208.30 374.30,222.40" fill="none" stroke="#3cb43c" stroke-width="1.3" stroke-linejoin="round" />
<polyline points="360.20,126.80 394.90,126.80 394.90,150.60 396.90,150.60 396.90,174.60 397.90,174.60 397.90,198.30 413.50,198.30 413.50,222.40" fill="none" stroke="#9a2ee0" stroke-width="1.3" stroke-linejoin="round" />
<polyline points="391.90,126.80 391.90,147.80 394.50,147.80 395.50,158.60 397.00,158.60 397.00,169.20 398.50,169.20 398.50,179.80 399.70,179.80 399.70,190.40 401.50,190.40 401.70,201.00 403.00,201.00 403.00,211.50 467.00,211.50 467.00,222.40" fill="none" stroke="#e0202c" stroke-width="1.3" stroke-linejoin="round" />
<line x1="408.1" y1="136.90" x2="421.9" y2="136.90" stroke="#e0202c" stroke-width="1.3"/>
<text x="427.3" y="140.10" font-size="9.02" font-weight="normal" fill="#111" text-anchor="start" textLength="83.78" lengthAdjust="spacingAndGlyphs" stroke="#111" stroke-width="0.18" >RE;D814V - AML (n=9)</text>
<line x1="408.1" y1="150.20" x2="421.9" y2="150.20" stroke="#3cb43c" stroke-width="1.3"/>
<text x="427.3" y="153.40" font-size="9.02" font-weight="normal" fill="#111" text-anchor="start" textLength="85.90" lengthAdjust="spacingAndGlyphs" stroke="#111" stroke-width="0.18" >RE;D814V - MPN (n=7)</text>
<line x1="408.1" y1="163.50" x2="421.9" y2="163.50" stroke="#9a2ee0" stroke-width="1.3"/>
<text x="427.3" y="166.70" font-size="9.02" font-weight="normal" fill="#111" text-anchor="start" textLength="90.16" lengthAdjust="spacingAndGlyphs" stroke="#111" stroke-width="0.18" >RE;D814V - B-ALL (n=4)</text>
</svg>
</body></html>
